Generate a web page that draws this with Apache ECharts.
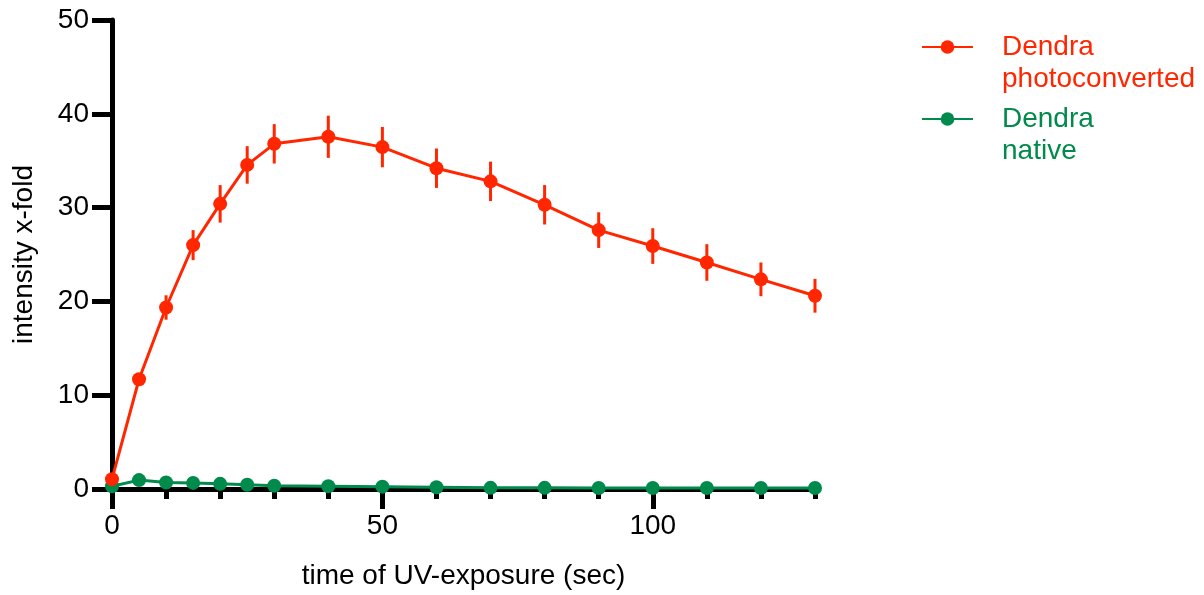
<!DOCTYPE html>
<html>
<head>
<meta charset="utf-8">
<script src="https://cdn.jsdelivr.net/npm/echarts@6/dist/echarts.min.js"></script>
<style>
html,body{margin:0;padding:0;background:#fff}
#chart{width:1204px;height:595px}
</style>
</head>
<body>
<div id="chart"></div>
<script>
// time points (sec)
const times = [0, 5, 10, 15, 20, 25, 30, 40, 50, 60, 70, 80, 90, 100, 110, 120, 130]
// Dendra photoconverted: mean and error
const photoconverted = [1.05, 11.7, 19.35, 26.0, 30.4, 34.55, 36.8, 37.55, 36.45, 34.2, 32.8, 30.3, 27.6, 25.9, 24.15, 22.35, 20.6]
const photoconvertedErr = [0.2, 0.6, 1.3, 1.6, 2.0, 2.0, 2.1, 2.25, 2.15, 2.1, 2.1, 2.1, 1.9, 1.9, 1.95, 1.8, 1.8]
// Dendra native
const native = [0.3, 0.95, 0.7, 0.65, 0.55, 0.45, 0.35, 0.3, 0.25, 0.18, 0.12, 0.12, 0.1, 0.1, 0.1, 0.1, 0.1]
// axis ticks
const xMinorTicks = [0, 10, 20, 30, 40, 50, 60, 70, 80, 90, 100, 110, 120, 130]
const xMajorTicks = [0, 50, 100]

const RED = '#ff2600'
const GREEN = '#008a4b'
const FONT = 'Liberation Sans'
const FS = 28

const redName = 'Dendra\nphotoconverted'
const greenName = 'Dendra\nnative'

const chart = echarts.init(document.getElementById('chart'))

const axisLine = { show: true, lineStyle: { color: '#000', width: 5 } }

chart.setOption({
  animation: false,
  grid: { left: 112, top: 20, width: 703, height: 470 },
  legend: {
    orient: 'vertical',
    left: 921,
    top: -1,
    padding: 0,
    itemWidth: 51,
    itemHeight: 17,
    itemGap: -24,
    data: [
      { name: redName, textStyle: { color: RED } },
      { name: greenName, textStyle: { color: GREEN } }
    ],
    // blank first line so the icon sits beside the first text line
    formatter: name => ' \n' + name,
    textStyle: { fontFamily: FONT, fontSize: FS, lineHeight: 32, padding: [0, 0, 0, 24] }
  },
  xAxis: [
    {
      type: 'value', min: 0, max: 130, interval: 10, position: 'bottom',
      axisLine: axisLine,
      axisTick: { show: true, length: 10, customValues: xMinorTicks, lineStyle: { color: '#000', width: 5 } },
      axisLabel: { show: false },
      splitLine: { show: false }
    },
    {
      type: 'value', min: 0, max: 130, interval: 50, position: 'bottom',
      axisLine: { show: false },
      axisTick: { show: true, length: 20, customValues: xMajorTicks, lineStyle: { color: '#000', width: 5 } },
      axisLabel: { show: true, margin: 23, customValues: xMajorTicks, color: '#000', fontFamily: FONT, fontSize: FS },
      splitLine: { show: false },
      name: 'time of UV-exposure (sec)',
      nameLocation: 'middle',
      nameGap: 73,
      nameTextStyle: { color: '#000', fontFamily: FONT, fontSize: FS }
    }
  ],
  yAxis: {
    type: 'value', min: 0, max: 50, interval: 10,
    axisLine: axisLine,
    axisTick: { show: true, length: 20, lineStyle: { color: '#000', width: 5 } },
    axisLabel: { margin: 23, color: '#000', fontFamily: FONT, fontSize: FS },
    splitLine: { show: false },
    name: 'intensity x-fold',
    nameLocation: 'middle',
    nameGap: 74,
    nameTextStyle: { color: '#000', fontFamily: FONT, fontSize: FS }
  },
  series: [
    {
      type: 'custom',
      name: 'err',
      xAxisIndex: 0,
      data: times.map((t, i) => [t, photoconverted[i], photoconvertedErr[i]]),
      encode: { x: 0, y: 1 },
      renderItem: function (params, api) {
        const x = api.value(0), y = api.value(1), e = api.value(2)
        const p1 = api.coord([x, y + e])
        const p2 = api.coord([x, y - e])
        return {
          type: 'line',
          shape: { x1: p1[0], y1: p1[1], x2: p2[0], y2: p2[1] },
          style: { stroke: RED, lineWidth: 3 }
        }
      }
    },
    {
      type: 'line',
      name: greenName,
      xAxisIndex: 0,
      data: times.map((t, i) => [t, native[i]]),
      symbol: 'circle',
      symbolSize: 14,
      color: GREEN,
      lineStyle: { width: 3, color: GREEN },
      emphasis: { disabled: true }
    },
    {
      type: 'line',
      name: redName,
      xAxisIndex: 0,
      data: times.map((t, i) => [t, photoconverted[i]]),
      symbol: 'circle',
      symbolSize: 14,
      color: RED,
      lineStyle: { width: 3, color: RED },
      emphasis: { disabled: true }
    }
  ]
})
</script>
</body>
</html>
